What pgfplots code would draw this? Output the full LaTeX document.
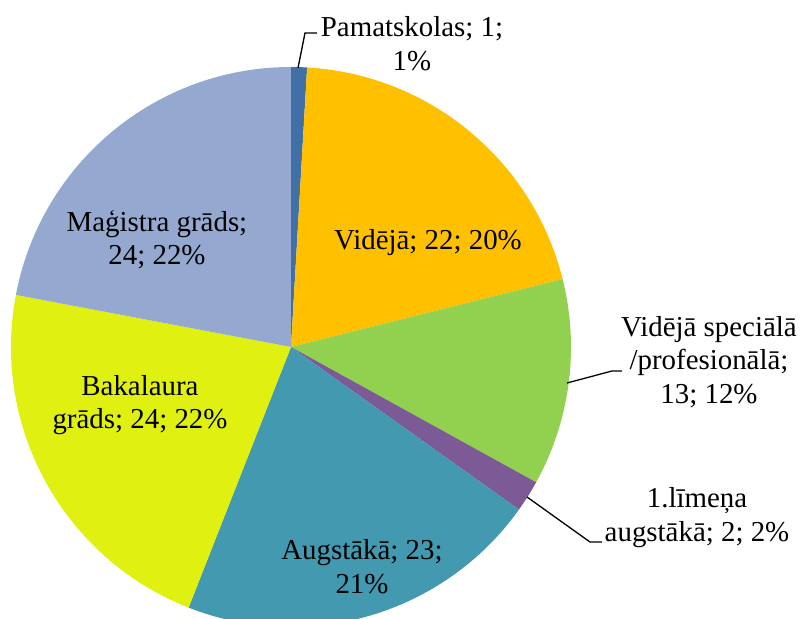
\documentclass[border=0pt]{standalone}
\usepackage{fontspec}
\setmainfont{Liberation Serif}
\usepackage{pgfplots}
\usepackage{pgfplotstable}
\pgfplotsset{compat=1.18}
\definecolor{cPam}{RGB}{65,112,167}
\definecolor{cVid}{RGB}{255,192,0}
\definecolor{cSpec}{RGB}{146,208,80}
\definecolor{cLim}{RGB}{123,90,150}
\definecolor{cAug}{RGB}{66,153,176}
\definecolor{cBak}{RGB}{224,240,16}
\definecolor{cMag}{RGB}{149,169,208}
\pgfplotstableread{
value
1
22
13
2
23
24
24
}\piedata
\begin{document}
\begin{tikzpicture}
\path[use as bounding box] (0,0) rectangle (801bp,619bp);
\pgfplotstablegetelem{0}{value}\of\piedata \let\vA\pgfplotsretval
\pgfplotstablegetelem{1}{value}\of\piedata \let\vB\pgfplotsretval
\pgfplotstablegetelem{2}{value}\of\piedata \let\vC\pgfplotsretval
\pgfplotstablegetelem{3}{value}\of\piedata \let\vD\pgfplotsretval
\pgfplotstablegetelem{4}{value}\of\piedata \let\vE\pgfplotsretval
\pgfplotstablegetelem{5}{value}\of\piedata \let\vF\pgfplotsretval
\pgfplotstablegetelem{6}{value}\of\piedata \let\vG\pgfplotsretval
\pgfmathsetmacro\tot{\vA+\vB+\vC+\vD+\vE+\vF+\vG}
\pgfmathsetmacro\aA{90}
\pgfmathsetmacro\aB{\aA-\vA/\tot*360}
\pgfmathsetmacro\aC{\aB-\vB/\tot*360}
\pgfmathsetmacro\aD{\aC-\vC/\tot*360}
\pgfmathsetmacro\aE{\aD-\vD/\tot*360}
\pgfmathsetmacro\aF{\aE-\vE/\tot*360}
\pgfmathsetmacro\aG{\aF-\vF/\tot*360}
\pgfmathsetmacro\aH{\aG-\vG/\tot*360}
\begin{axis}[at={(0,0)},anchor=south west,width=801bp,height=619bp,scale only axis,
  xmin=0,xmax=801,ymin=0,ymax=619,hide axis,clip=true]
\fill[cPam] (axis cs:291,272) -- ++(\aA:280bp) arc[start angle=\aA,end angle=\aB,radius=280bp] -- cycle;
\fill[cVid] (axis cs:291,272) -- ++(\aB:280bp) arc[start angle=\aB,end angle=\aC,radius=280bp] -- cycle;
\fill[cSpec] (axis cs:291,272) -- ++(\aC:280bp) arc[start angle=\aC,end angle=\aD,radius=280bp] -- cycle;
\fill[cLim] (axis cs:291,272) -- ++(\aD:280bp) arc[start angle=\aD,end angle=\aE,radius=280bp] -- cycle;
\fill[cAug] (axis cs:291,272) -- ++(\aE:280bp) arc[start angle=\aE,end angle=\aF,radius=280bp] -- cycle;
\fill[cBak] (axis cs:291,272) -- ++(\aF:280bp) arc[start angle=\aF,end angle=\aG,radius=280bp] -- cycle;
\fill[cMag] (axis cs:291,272) -- ++(\aG:280bp) arc[start angle=\aG,end angle=\aH,radius=280bp] -- cycle;
\draw[black,line width=1.3bp] (axis cs:298,551) -- (axis cs:305,586) -- (axis cs:317,586);
\draw[black,line width=1.3bp] (axis cs:567,236) -- (axis cs:612,248) -- (axis cs:622,248);
\draw[black,line width=1.3bp] (axis cs:527,122) -- (axis cs:590,77) -- (axis cs:602,77);
\tikzset{lbl/.style={font=\fontsize{29}{33.5}\selectfont,align=center,inner sep=0pt}}
\node[lbl] at (axis cs:412,575.5) {Pamatskolas; 1;\\1\%};
\node[lbl] at (axis cs:428,376) {Vidējā; 22; 20\%};
\node[lbl] at (axis cs:709,257) {Vidējā speciālā\\/profesionālā;\\13; 12\%};
\node[lbl] at (axis cs:697,101.5) {1.līmeņa\\augstākā; 2; 2\%};
\node[lbl] at (axis cs:362,52.5) {Augstākā; 23;\\21\%};
\node[lbl] at (axis cs:140,214) {Bakalaura\\grāds; 24; 22\%};
\node[lbl] at (axis cs:157,379) {Maģistra grāds;\\24; 22\%};
\end{axis}
\end{tikzpicture}
\end{document}
